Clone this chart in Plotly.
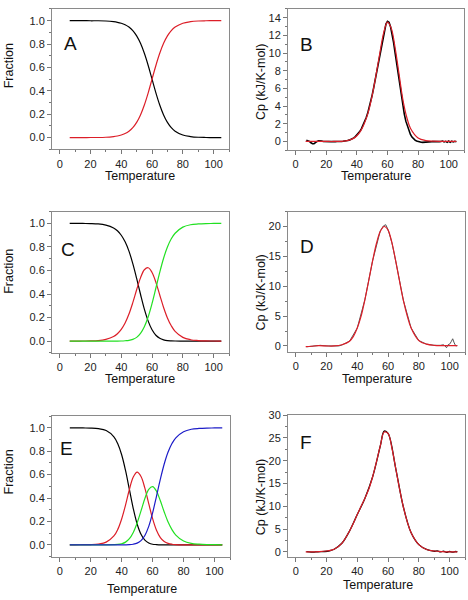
import plotly.graph_objects as go

# ---------------- data ----------------
T_GRID = [6.5, 10, 15, 20, 25, 30, 35, 37.5, 40, 42.5, 45, 47.5, 50, 52.5, 55,
          57.5, 60, 62.5, 65, 67.5, 70, 72.5, 75, 80, 85, 90, 95, 100, 105]

# Panel A: two-state fractions
A_native = [1.000, 1.000, 1.000, 0.999, 0.999, 0.997, 0.991, 0.986, 0.978, 0.965, 0.945, 0.915, 0.870, 0.806, 0.721,
            0.617, 0.500, 0.383, 0.279, 0.194, 0.130, 0.085, 0.055, 0.022, 0.009, 0.003, 0.001, 0.000, 0.000]
A_unfolded = [0.000, 0.000, 0.000, 0.001, 0.001, 0.003, 0.009, 0.014, 0.022, 0.035, 0.055, 0.085, 0.130, 0.194, 0.279,
              0.383, 0.500, 0.617, 0.721, 0.806, 0.870, 0.915, 0.945, 0.978, 0.991, 0.997, 0.999, 1.000, 1.000]

# Panel B: DSC data and fit
B_fit = [0.0, 0.0, 0.0, 0.0, 0.0, 0.02, 0.15, 0.32, 0.65, 1.2, 2.1, 3.35, 5.2, 7.5, 10.0,
         12.3, 13.5, 12.8, 10.6, 7.7, 4.8, 2.8, 1.5, 0.4, 0.1, 0.03, 0.01, 0.0, 0.0]
B_DATA_T = list(range(7, 106))
B_data = [0.15, 0.1, 0.0, -0.15, -0.25, -0.25, -0.1, 0.0, 0.08, 0.1,
          0.05, 0.0, -0.02, 0.0, -0.03, 0.0, -0.02, 0.0, -0.03, -0.02,
          0.0, -0.02, 0.0, 0.0, 0.02, 0.03, 0.05, 0.1, 0.15, 0.22,
          0.3, 0.4, 0.55, 0.72, 0.92, 1.15, 1.45, 1.8, 2.2, 2.65,
          3.15, 3.75, 4.45, 5.25, 6.1, 7.0, 8.0, 9.0, 10.0, 11.0,
          11.9, 12.7, 13.3, 13.6, 13.5, 13.0, 12.2, 11.2, 10.0, 8.8,
          7.5, 6.3, 5.1, 4.0, 3.1, 2.3, 1.7, 1.2, 0.8, 0.5,
          0.3, 0.15, 0.05, -0.02, -0.05, -0.08, -0.1, -0.1, -0.08, -0.05,
          -0.05, -0.03, -0.02, 0.0, -0.02, 0.0, 0.02, -0.02, 0.0, 0.05,
          -0.05, 0.02, -0.08, 0.05, -0.1, 0.03, -0.05, 0.02, -0.03]

# Panel C: three-state fractions
C_native = [1.000, 1.000, 0.999, 0.998, 0.995, 0.985, 0.961, 0.937, 0.899, 0.843, 0.764, 0.658, 0.532, 0.398, 0.272,
            0.170, 0.096, 0.050, 0.024, 0.011, 0.004, 0.002, 0.001, 0.000, 0.000, 0.000, 0.000, 0.000, 0.000]
C_inter = [0.000, 0.000, 0.001, 0.002, 0.005, 0.015, 0.039, 0.063, 0.100, 0.154, 0.230, 0.327, 0.436, 0.537, 0.606,
           0.623, 0.583, 0.499, 0.392, 0.286, 0.197, 0.130, 0.083, 0.032, 0.012, 0.005, 0.002, 0.001, 0.000]
C_unfolded = [0.000, 0.000, 0.000, 0.000, 0.000, 0.000, 0.000, 0.000, 0.001, 0.003, 0.006, 0.015, 0.032, 0.066, 0.122,
              0.207, 0.320, 0.451, 0.584, 0.704, 0.799, 0.869, 0.916, 0.968, 0.988, 0.995, 0.998, 0.999, 1.000]

# Panel D: DSC data and fit
D_fit = [-0.1, -0.05, 0.05, 0.0, 0.0, 0.2, 0.8, 1.6, 3.0, 5.0, 7.8, 11.0, 14.3, 17.2, 19.2,
         20.0, 19.4, 17.3, 14.2, 10.8, 7.6, 5.0, 3.0, 0.9, 0.3, 0.1, 0.05, 0.05, 0.05]
D_DATA_T = [7, 10, 13, 16, 20, 25, 28, 30, 35, 40, 45, 50, 55, 57, 58.5, 60, 62.5, 65, 70, 75, 80, 85, 90,
            94, 96, 97, 98, 99, 100, 101, 102, 103, 104, 105]
D_data = [-0.15, -0.05, 0.05, 0.1, 0.0, -0.05, 0.0, 0.15, 0.8, 3.0, 7.8, 14.3, 19.3, 20.1, 20.3, 19.5, 17.3, 14.2,
          7.6, 3.0, 0.9, 0.3, 0.1, 0.1, 0.2, 0.0, -0.3, 0.2, 0.3, 0.7, 1.2, 0.5, 0.0, 0.05]

# Panel E: four-state fractions
E_native = [1.000, 1.000, 0.999, 0.998, 0.993, 0.977, 0.923, 0.864, 0.770, 0.636, 0.473, 0.310, 0.178, 0.090, 0.040,
            0.016, 0.005, 0.002, 0.000, 0.000, 0.000, 0.000, 0.000, 0.000, 0.000, 0.000, 0.000, 0.000, 0.000]
E_inter1 = [0.000, 0.000, 0.001, 0.002, 0.007, 0.023, 0.076, 0.132, 0.221, 0.340, 0.473, 0.579, 0.621, 0.584, 0.484,
            0.352, 0.224, 0.125, 0.062, 0.028, 0.012, 0.005, 0.002, 0.000, 0.000, 0.000, 0.000, 0.000, 0.000]
E_inter2 = [0.000, 0.000, 0.000, 0.000, 0.000, 0.000, 0.001, 0.003, 0.009, 0.023, 0.052, 0.106, 0.187, 0.290, 0.396,
            0.475, 0.498, 0.459, 0.376, 0.281, 0.195, 0.130, 0.083, 0.032, 0.012, 0.005, 0.002, 0.001, 0.000]
E_unfolded = [0.000, 0.000, 0.000, 0.000, 0.000, 0.000, 0.000, 0.000, 0.000, 0.000, 0.001, 0.005, 0.014, 0.036, 0.080,
              0.158, 0.273, 0.415, 0.561, 0.691, 0.793, 0.866, 0.915, 0.967, 0.988, 0.995, 0.998, 0.999, 1.000]

# Panel F: DSC data and fit
F_fit = [0.0, 0.0, 0.05, 0.2, 0.6, 1.9, 4.6, 6.3, 8.2, 10.0, 11.8, 13.8, 16.5, 19.8, 23.3,
         26.3, 26.0, 22.8, 18.3, 13.8, 9.8, 6.6, 4.2, 1.6, 0.55, 0.2, 0.05, 0.0, 0.0]
F_DATA_T = [7, 10, 13, 16, 19, 22, 25, 30, 35, 40, 45, 50, 55, 57.5, 60, 65, 70, 75, 80, 85, 88, 90, 92, 94, 96,
            98, 100, 102, 104, 105]
F_data = [0.05, -0.05, 0.0, 0.05, 0.1, 0.25, 0.6, 1.9, 4.6, 8.2, 11.8, 16.5, 23.3, 26.5, 26.0, 18.3, 9.8, 4.2, 1.6,
          0.55, 0.3, 0.15, 0.25, 0.0, 0.2, -0.1, 0.1, -0.05, 0.1, 0.0]

X_TICKS = [0, 20, 40, 60, 80, 100]

# ---------------- styles ----------------
BLACK = "#000000"
RED = "#dc1e28"
GREEN = "#22e022"
BLUE = "#1c1cc8"
FONT = "Liberation Sans, Arial, sans-serif"

fig = go.Figure()


def add(x, y, color, ax, width=1.2, shape="spline"):
    line = dict(color=color, width=width, shape=shape)
    if shape == "spline":
        line["smoothing"] = 1.0
    fig.add_trace(go.Scatter(x=x, y=y, mode="lines", line=line,
                             xaxis="x" + ax, yaxis="y" + ax, hoverinfo="skip"))


# A
add(T_GRID, A_native, BLACK, "")
add(T_GRID, A_unfolded, RED, "")
# B
add(B_DATA_T, B_data, BLACK, "2", width=1.6, shape="linear")
add(T_GRID, B_fit, RED, "2")
# C
add(T_GRID, C_native, BLACK, "3")
add(T_GRID, C_inter, RED, "3")
add(T_GRID, C_unfolded, GREEN, "3")
# D
add(D_DATA_T, D_data, "#555555", "4", width=1.0, shape="linear")
add(T_GRID, D_fit, RED, "4")
# E
add(T_GRID, E_native, BLACK, "5")
add(T_GRID, E_inter1, RED, "5")
add(T_GRID, E_inter2, GREEN, "5")
add(T_GRID, E_unfolded, BLUE, "5")
# F
add(F_DATA_T, F_data, BLACK, "6", width=1.3)
add(T_GRID, F_fit, RED, "6")

W, H = 468, 600


def xd(a, b):
    return [a / W, b / W]


def yd(top, bottom):
    return [1 - bottom / H, 1 - top / H]


def xaxis(dom, anchor):
    return dict(domain=dom, anchor=anchor, range=[-5, 110], tickvals=X_TICKS,
                ticks="outside", ticklen=4, tickwidth=1, tickcolor="#777777",
                showline=True, linecolor="#8a8a8a", linewidth=1, mirror=True,
                showgrid=False, zeroline=False,
                tickfont=dict(size=11, color="#222222", family=FONT),
                minor=dict(dtick=10, tick0=0, ticks="outside", ticklen=2, tickcolor="#777777", showgrid=False))


def yaxis(dom, anchor, rng, dtick, minor, fmt):
    return dict(domain=dom, anchor=anchor, range=rng, dtick=dtick, tick0=0, tickformat=fmt,
                ticks="outside", ticklen=4, tickwidth=1, tickcolor="#777777",
                showline=True, linecolor="#8a8a8a", linewidth=1, mirror=True,
                showgrid=False, zeroline=False,
                tickfont=dict(size=11, color="#222222", family=FONT),
                minor=dict(dtick=minor, tick0=0, ticks="outside", ticklen=2, tickcolor="#777777", showgrid=False))


layout = dict(
    width=W, height=H, margin=dict(l=0, r=0, t=0, b=0),
    paper_bgcolor="white", plot_bgcolor="white", showlegend=False,
    xaxis=xaxis(xd(52, 229), "y"),
    yaxis=yaxis(yd(3, 145), "x", [-0.1, 1.1], 0.2, 0.1, ".1f"),
    xaxis2=xaxis(xd(288, 464), "y2"),
    yaxis2=yaxis(yd(3, 146), "x2", [-1, 15], 2, 1, "d"),
    xaxis3=xaxis(xd(52, 229), "y3"),
    yaxis3=yaxis(yd(208, 351), "x3", [-0.1, 1.1], 0.2, 0.1, ".1f"),
    xaxis4=xaxis(xd(288, 465), "y4"),
    yaxis4=yaxis(yd(208, 350), "x4", [-1, 22.5], 5, 2.5, "d"),
    xaxis5=xaxis(xd(52, 230), "y5"),
    yaxis5=yaxis(yd(415, 557), "x5", [-0.1, 1.1], 0.2, 0.1, ".1f"),
    xaxis6=xaxis(xd(288, 465), "y6"),
    yaxis6=yaxis(yd(414, 557), "x6", [-1, 30], 5, 2.5, "d"),
)

ann = []


def label(text, px, py, size=12.5, angle=0):
    ann.append(dict(text=text, x=px / W, y=1 - py / H, xref="paper", yref="paper",
                    xanchor="center", yanchor="middle", showarrow=False, textangle=angle,
                    font=dict(size=size, color="#111111", family=FONT)))


for py in (61, 269, 472):
    label("Fraction", 9, py, angle=-90)
for py in (77, 290, 497):
    label("Cp (kJ/K-mol)", 261, py, angle=-90)
for px, py in ((140, 172), (376, 172), (140, 377), (377, 377), (142, 590), (378, 586)):
    label("Temperature", px, py)
for t, px, py in (("A", 70, 38), ("B", 306, 39), ("C", 68, 246), ("D", 307, 243), ("E", 66, 448), ("F", 306, 442)):
    label(t, px, py, size=19)

layout["annotations"] = ann
fig.update_layout(**layout)
fig.write_html("out.html", config={"displayModeBar": False},
               post_script="document.body.style.margin='0px';document.body.style.overflow='hidden';")
